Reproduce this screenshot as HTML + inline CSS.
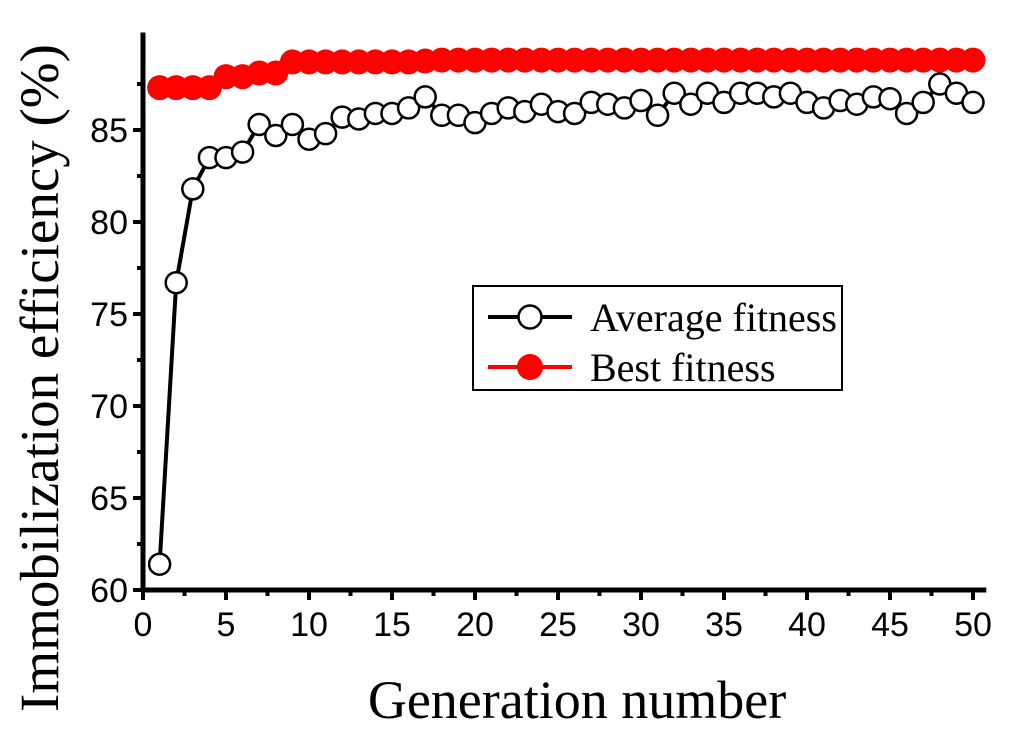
<!DOCTYPE html>
<html><head><meta charset="utf-8"><style>
body{margin:0;background:#fff}
svg{display:block}
</style></head><body>
<svg id="chart" width="1024" height="732" viewBox="0 0 1024 732" xmlns="http://www.w3.org/2000/svg">
<g id="axes"></g>
<g id="series"></g>
<text transform="translate(58,378) rotate(-90)" text-anchor="middle" font-family="Liberation Serif, serif" font-size="55">Immobilization efficiency (%)</text>
<text x="577" y="718" text-anchor="middle" font-family="Liberation Serif, serif" font-size="54">Generation number</text>
<g>
<rect x="473" y="286" width="369" height="104" fill="#fff" stroke="#000" stroke-width="2"/>
<g>
<line x1="488" y1="317" x2="572" y2="317" stroke="#000" stroke-width="4"/>
<circle cx="530" cy="317" r="11.5" fill="#fff" stroke="#000" stroke-width="2.5"/>
<text x="590" y="331" font-family="Liberation Serif, serif" font-size="40">Average fitness</text>
</g>
<g>
<line x1="488" y1="367" x2="572" y2="367" stroke="#f00" stroke-width="4"/>
<circle cx="530" cy="367" r="13" fill="#f00"/>
<text x="590" y="381" font-family="Liberation Serif, serif" font-size="40">Best fitness</text>
</g>
</g>
</svg>
<script>
const generations = Array.from({length:50},(_,i)=>i+1);
const averageFitness = [61.4,76.7,81.8,83.5,83.5,83.8,85.3,84.7,85.3,84.5,84.8,85.7,85.6,85.9,85.9,86.2,86.8,85.8,85.8,85.4,85.9,86.2,86.0,86.4,86.0,85.9,86.5,86.4,86.2,86.6,85.8,87.0,86.4,87.0,86.5,87.0,87.0,86.8,87.0,86.5,86.2,86.6,86.4,86.8,86.7,85.9,86.5,87.5,87.0,86.5];
const bestFitness = [87.3,87.3,87.3,87.3,87.9,87.9,88.1,88.1,88.7,88.7,88.7,88.7,88.7,88.7,88.7,88.7,88.75,88.8,88.8,88.8,88.8,88.8,88.8,88.8,88.8,88.8,88.8,88.8,88.8,88.8,88.8,88.8,88.8,88.8,88.8,88.8,88.8,88.8,88.8,88.8,88.8,88.8,88.8,88.8,88.8,88.8,88.8,88.8,88.8,88.8];
const xTicks = [0,5,10,15,20,25,30,35,40,45,50];
const yTicks = [60,65,70,75,80,85];

const NS='http://www.w3.org/2000/svg';
const X = v => 143 + v*16.6;
const Y = v => 590 - (v-60)*18.4;
function mk(tag, attrs, parent){const e=document.createElementNS(NS,tag);for(const k in attrs)e.setAttribute(k,attrs[k]);parent.appendChild(e);return e;}
const axes=document.getElementById('axes'), series=document.getElementById('series');

let e=mk('line',{x1:X(0),y1:Y(60)+2,x2:X(0),y2:Y(90.3),stroke:'#000','stroke-width':5},axes);


e=mk('line',{x1:X(0)-2,y1:Y(60),x2:X(50.8),y2:Y(60),stroke:'#000','stroke-width':5},axes);


for(let v=0; v<=50; v+=2.5){
  const major=v%5===0;
  mk('line',{x1:X(v),y1:Y(60),x2:X(v),y2:Y(60)+(major?10:6),stroke:'#000','stroke-width':4},axes);
}
for(let v=60; v<=87.5; v+=2.5){
  const major=v%5===0;
  mk('line',{x1:X(0),y1:Y(v),x2:X(0)-(major?10:6),y2:Y(v),stroke:'#000','stroke-width':4},axes);
}
xTicks.forEach(v=>{
  const t=mk('text',{x:X(v),y:636,'text-anchor':'middle','font-family':'Liberation Sans, sans-serif','font-size':34},axes);
  t.textContent=v;
  
  
});
yTicks.forEach(v=>{
  const t=mk('text',{x:128,y:Y(v)+12,'text-anchor':'end','font-family':'Liberation Sans, sans-serif','font-size':34},axes);
  t.textContent=v;
  
  
});

let p=mk('polyline',{points:generations.map((g,i)=>X(g)+','+Y(bestFitness[i])).join(' '),fill:'none',stroke:'#f00','stroke-width':4},series);


generations.forEach((g,i)=>{
  const c=mk('circle',{cx:X(g),cy:Y(bestFitness[i]),r:12.5,fill:'#f00'},series);
  
  
});
p=mk('polyline',{points:generations.map((g,i)=>X(g)+','+Y(averageFitness[i])).join(' '),fill:'none',stroke:'#000','stroke-width':4},series);


generations.forEach((g,i)=>{
  const c=mk('circle',{cx:X(g),cy:Y(averageFitness[i]),r:10.5,fill:'#fff',stroke:'#000','stroke-width':2.5},series);
  
  
});
</script>
</body></html>
